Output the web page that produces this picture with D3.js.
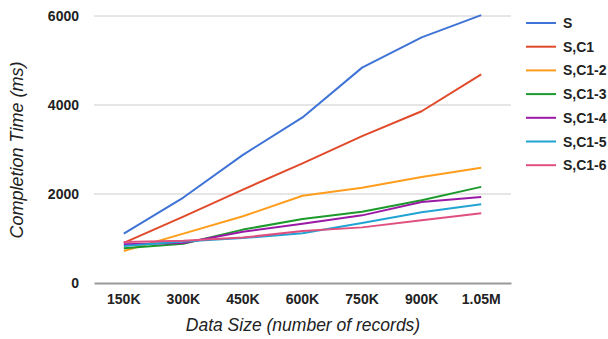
<!DOCTYPE html>
<html><head><meta charset="utf-8">
<script src="https://cdn.jsdelivr.net/npm/d3@7"></script>
<style>
html,body{margin:0;padding:0;background:#fff;}
svg{display:block;}
svg text{font-family:"Liberation Sans",Arial,sans-serif;}
</style></head>
<body>
<svg id="chart" width="608" height="339"></svg>
<script>
const categories = ["150K","300K","450K","600K","750K","900K","1.05M"];
const seriesNames = ["S","S,C1","S,C1-2","S,C1-3","S,C1-4","S,C1-5","S,C1-6"];
const sVals   = [1110, 1920, 2880, 3720, 4840, 5520, 6020];
const sc1     = [900, 1490, 2100, 2690, 3300, 3860, 4690];
const sc1_2   = [720, 1110, 1500, 1960, 2140, 2380, 2590];
const sc1_3   = [780, 880, 1200, 1440, 1600, 1860, 2160];
const sc1_4   = [870, 900, 1150, 1330, 1520, 1820, 1930];
const sc1_5   = [830, 930, 1010, 1120, 1350, 1590, 1770];
const sc1_6   = [920, 950, 1020, 1170, 1250, 1410, 1570];
const yTicks = [0, 2000, 4000, 6000];
const colors = ["#3f74d6","#e04a2a","#ff9d1c","#1c9a2c","#9a1aa6","#21a3d4","#e0507e"];
const allSeries = [sVals, sc1, sc1_2, sc1_3, sc1_4, sc1_5, sc1_6];

const svg = d3.select("#chart");
const mLeft = 94, mRight = 511, mTop = 16, mBottom = 283;

const x = d3.scaleBand().domain(categories).range([mLeft, mRight]).paddingInner(0).paddingOuter(0);
const y = d3.scaleLinear().domain([0, 6000]).range([mBottom, mTop]);

// gridlines
svg.append("g").selectAll("line").data(yTicks.filter(d => d !== 0)).join("line")
  .attr("x1", mLeft).attr("x2", mRight)
  .attr("y1", d => y(d)).attr("y2", d => y(d))
  .attr("stroke", "#cccccc").attr("stroke-width", 1);

// y axis labels
const yAxis = d3.axisLeft(y).tickValues(yTicks).tickSize(0).tickPadding(15).tickFormat(d3.format("d"));
const gy = svg.append("g").attr("transform", `translate(${mLeft},0)`).call(yAxis);
gy.select(".domain").remove();
gy.selectAll("text").attr("font-size", 14).attr("font-weight", "bold").attr("fill", "#222")
  .attr("font-family", "Liberation Sans, Arial, sans-serif");

// x axis
const xAxis = d3.axisBottom(x).tickSize(0).tickPadding(11);
const gx = svg.append("g").attr("transform", `translate(0,${mBottom})`).call(xAxis);
gx.select(".domain").attr("stroke", "#999999").attr("stroke-width", 2);
gx.selectAll("text").attr("font-size", 14).attr("font-weight", "bold").attr("fill", "#222")
  .attr("font-family", "Liberation Sans, Arial, sans-serif");

// lines
const line = d3.line().x((d, i) => x(categories[i]) + x.bandwidth() / 2).y(d => y(d));
svg.append("g").selectAll("path").data(allSeries).join("path")
  .attr("d", d => line(d)).attr("fill", "none")
  .attr("stroke", (d, i) => colors[i]).attr("stroke-width", 2)
  .attr("stroke-linejoin", "round");

// axis titles
svg.append("text").attr("transform", "translate(23,150) rotate(-90)")
  .attr("text-anchor", "middle").attr("font-size", 18).attr("font-style", "italic")
  .attr("fill", "#222").text("Completion Time (ms)");
svg.append("text").attr("x", 303).attr("y", 331)
  .attr("text-anchor", "middle").attr("font-size", 17.5).attr("font-style", "italic")
  .attr("fill", "#222").text("Data Size (number of records)");

// legend
const lg = svg.append("g").selectAll("g").data(seriesNames).join("g")
  .attr("transform", (d, i) => `translate(526,${23 + i * 23.7})`);
lg.append("line").attr("x1", 0).attr("x2", 30).attr("y1", 0).attr("y2", 0)
  .attr("stroke", (d, i) => colors[i]).attr("stroke-width", 2);
lg.append("text").attr("x", 37).attr("y", 0).attr("dy", "0.36em")
  .attr("font-size", 14).attr("font-weight", "bold").attr("fill", "#222").text(d => d);
</script>
</body></html>
